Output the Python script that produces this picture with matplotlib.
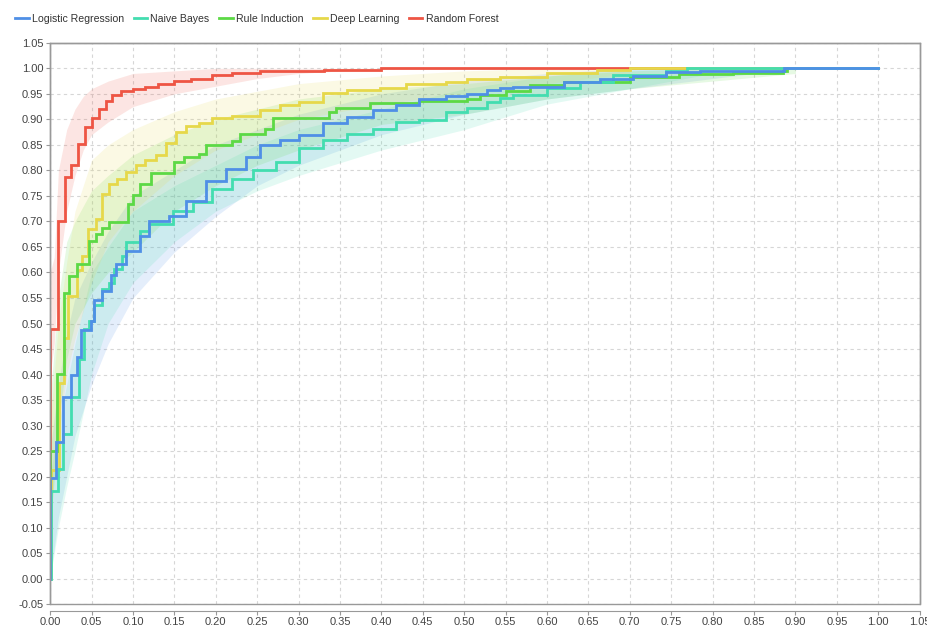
import numpy as np
import matplotlib
matplotlib.use("Agg")
import matplotlib.pyplot as plt
from matplotlib.patches import Rectangle

plt.rcParams['font.family'] = ['Liberation Sans', 'DejaVu Sans']

# ---- data (ROC curves, step points) ----
models = ['Logistic Regression', 'Naive Bayes', 'Rule Induction', 'Deep Learning', 'Random Forest']
colors = ['#4f8fe6', '#43ddb0', '#5cd945', '#e6d84a', '#ee5544']

lr_x = [0, 0, 0.007, 0.015, 0.025, 0.033, 0.037, 0.049, 0.053, 0.063, 0.073, 0.080, 0.092, 0.108,
        0.12, 0.144, 0.164, 0.188, 0.212, 0.236, 0.253, 0.277, 0.301, 0.329, 0.358, 0.39, 0.418,
        0.446, 0.478, 0.503, 0.527, 0.543, 0.559, 0.62, 0.664, 0.704, 0.744, 0.785, 0.886, 1.0]
lr_y = [0, 0.198, 0.267, 0.356, 0.399, 0.435, 0.488, 0.504, 0.547, 0.563, 0.596, 0.616, 0.642, 0.672,
        0.701, 0.711, 0.741, 0.780, 0.803, 0.826, 0.849, 0.859, 0.869, 0.892, 0.905, 0.918, 0.928,
        0.940, 0.945, 0.949, 0.958, 0.961, 0.964, 0.973, 0.980, 0.985, 0.992, 0.995, 1.0, 1.0]
lr_bx = [0, 0.01, 0.02, 0.03, 0.05, 0.07, 0.10, 0.15, 0.20, 0.25, 0.30, 0.40, 0.50, 0.60, 0.70, 0.80, 0.90]
lr_lo = [0.0, 0.12, 0.20, 0.28, 0.38, 0.46, 0.55, 0.64, 0.71, 0.77, 0.81, 0.87, 0.91, 0.94, 0.96, 0.98, 1.0]
lr_hi = [0.25, 0.38, 0.48, 0.55, 0.62, 0.68, 0.75, 0.80, 0.85, 0.88, 0.91, 0.95, 0.975, 0.99, 1.0, 1.0, 1.0]

nb_x = [0, 0.001, 0.009, 0.015, 0.025, 0.035, 0.041, 0.047, 0.053, 0.063, 0.071, 0.077, 0.087, 0.092,
        0.108, 0.12, 0.148, 0.172, 0.196, 0.22, 0.245, 0.273, 0.301, 0.33, 0.358, 0.39, 0.418, 0.446,
        0.478, 0.503, 0.527, 0.543, 0.559, 0.60, 0.64, 0.68, 0.744, 0.769, 1.0]
nb_y = [0, 0.172, 0.215, 0.284, 0.356, 0.430, 0.490, 0.504, 0.537, 0.567, 0.580, 0.606, 0.632, 0.659,
        0.682, 0.695, 0.721, 0.738, 0.764, 0.784, 0.800, 0.817, 0.843, 0.859, 0.872, 0.882, 0.895, 0.899,
        0.915, 0.922, 0.935, 0.941, 0.948, 0.961, 0.974, 0.986, 0.994, 1.0, 1.0]
nb_bx = [0, 0.01, 0.02, 0.03, 0.05, 0.07, 0.10, 0.15, 0.20, 0.25, 0.30, 0.40, 0.50, 0.60, 0.70, 0.80]
nb_lo = [0.0, 0.10, 0.18, 0.25, 0.40, 0.50, 0.58, 0.66, 0.72, 0.76, 0.79, 0.84, 0.88, 0.93, 0.96, 0.99]
nb_hi = [0.20, 0.30, 0.38, 0.46, 0.60, 0.65, 0.72, 0.77, 0.81, 0.85, 0.88, 0.92, 0.96, 0.985, 1.0, 1.0]

ri_x = [0, 0, 0.008, 0.017, 0.023, 0.033, 0.047, 0.055, 0.063, 0.071, 0.094, 0.100, 0.108, 0.122,
        0.15, 0.162, 0.18, 0.188, 0.22, 0.229, 0.26, 0.269, 0.337, 0.345, 0.386, 0.446, 0.503, 0.519,
        0.55, 0.579, 0.62, 0.70, 0.76, 0.825, 0.885, 0.89, 1.0]
ri_y = [0, 0.251, 0.402, 0.560, 0.593, 0.616, 0.662, 0.675, 0.688, 0.698, 0.734, 0.751, 0.774, 0.795,
        0.817, 0.826, 0.832, 0.849, 0.857, 0.872, 0.882, 0.902, 0.915, 0.923, 0.932, 0.936, 0.940, 0.947,
        0.955, 0.968, 0.974, 0.984, 0.988, 0.991, 0.995, 1.0, 1.0]
ri_bx = [0, 0.01, 0.02, 0.03, 0.05, 0.07, 0.10, 0.15, 0.20, 0.25, 0.30, 0.40, 0.50, 0.60, 0.70, 0.80, 0.90]
ri_lo = [0.10, 0.30, 0.43, 0.50, 0.56, 0.60, 0.64, 0.72, 0.77, 0.81, 0.84, 0.89, 0.91, 0.94, 0.96, 0.975, 0.99]
ri_hi = [0.35, 0.55, 0.66, 0.70, 0.76, 0.79, 0.83, 0.87, 0.90, 0.92, 0.94, 0.96, 0.97, 0.985, 0.995, 1.0, 1.0]

dl_x = [0, 0.001, 0.011, 0.017, 0.022, 0.026, 0.033, 0.039, 0.046, 0.055, 0.063, 0.071, 0.081, 0.092,
        0.104, 0.115, 0.128, 0.14, 0.152, 0.164, 0.18, 0.196, 0.22, 0.253, 0.277, 0.301, 0.33, 0.358,
        0.398, 0.43, 0.478, 0.503, 0.543, 0.60, 0.66, 0.70, 1.0]
dl_y = [0, 0.212, 0.383, 0.472, 0.553, 0.553, 0.605, 0.632, 0.685, 0.705, 0.754, 0.774, 0.784, 0.797,
        0.811, 0.820, 0.831, 0.853, 0.876, 0.888, 0.892, 0.902, 0.907, 0.918, 0.928, 0.935, 0.951, 0.958,
        0.962, 0.969, 0.974, 0.979, 0.984, 0.991, 0.997, 1.0, 1.0]
dl_bx = [0, 0.01, 0.02, 0.03, 0.05, 0.07, 0.10, 0.15, 0.20, 0.25, 0.30, 0.40, 0.50, 0.60, 0.70]
dl_lo = [0.10, 0.28, 0.40, 0.47, 0.58, 0.66, 0.72, 0.79, 0.84, 0.87, 0.90, 0.93, 0.95, 0.97, 0.99]
dl_hi = [0.30, 0.50, 0.62, 0.72, 0.82, 0.85, 0.88, 0.915, 0.94, 0.955, 0.97, 0.985, 0.995, 1.0, 1.0]

rf_x = [0, 0, 0.009, 0.018, 0.025, 0.034, 0.042, 0.051, 0.059, 0.067, 0.075, 0.085, 0.10, 0.114,
        0.13, 0.15, 0.17, 0.196, 0.22, 0.253, 0.331, 0.40, 1.0]
rf_y = [0, 0.49, 0.70, 0.787, 0.811, 0.851, 0.886, 0.903, 0.920, 0.936, 0.947, 0.955, 0.960, 0.964,
        0.970, 0.976, 0.980, 0.987, 0.990, 0.995, 0.997, 1.0, 1.0]
rf_bx = [0, 0.005, 0.01, 0.02, 0.03, 0.04, 0.05, 0.07, 0.10, 0.15, 0.20, 0.25, 0.30, 0.40]
rf_lo = [0.40, 0.46, 0.60, 0.72, 0.79, 0.84, 0.87, 0.895, 0.925, 0.95, 0.965, 0.98, 0.99, 1.0]
rf_hi = [0.60, 0.63, 0.80, 0.88, 0.92, 0.945, 0.96, 0.975, 0.99, 0.995, 1.0, 1.0, 1.0, 1.0]

curves = [(lr_x, lr_y), (nb_x, nb_y), (ri_x, ri_y), (dl_x, dl_y), (rf_x, rf_y)]
bands = [(lr_bx, lr_lo, lr_hi), (nb_bx, nb_lo, nb_hi), (ri_bx, ri_lo, ri_hi),
         (dl_bx, dl_lo, dl_hi), (rf_bx, rf_lo, rf_hi)]

fig = plt.figure(figsize=(9.28, 6.3), dpi=100)
ax = fig.add_axes([0.054, 0.041, 0.937, 0.891])

ax.set_xlim(0, 1.05)
ax.set_ylim(-0.05, 1.05)
ticks = np.round(np.arange(0, 1.0501, 0.05), 2)
yticks = np.round(np.arange(-0.05, 1.0501, 0.05), 2)
ax.set_xticks(ticks)
ax.set_yticks(yticks)
ax.set_xticklabels([f'{t:.2f}' for t in ticks])
ax.set_yticklabels([f'{t:.2f}' for t in yticks])
ax.tick_params(labelsize=8, labelcolor='#444444', color='#999999', length=3, width=0.8)
ax.tick_params(axis='x', pad=1.5)
ax.tick_params(axis='y', pad=2)
ax.grid(True, color='#d6d6d6', linestyle=(0, (3, 3)), linewidth=0.8)
ax.set_axisbelow(True)

for s in ['top', 'right', 'left']:
    ax.spines[s].set_color('#999999')
    ax.spines[s].set_linewidth(1.0)
ax.spines['bottom'].set_position(('outward', 5))
ax.spines['bottom'].set_color('#999999')
ax.add_patch(Rectangle((0, 0), 1, 1, transform=ax.transAxes, fill=False,
                       edgecolor='#999999', linewidth=1.0, clip_on=False, zorder=5))

# bands first, then lines drawn with Random Forest at the bottom
for (bx, lo, hi), c in zip(bands, colors):
    ax.fill_between(bx, lo, hi, color=c, alpha=0.15, linewidth=0)

for i in range(len(models) - 1, -1, -1):
    x, y = curves[i]
    ax.plot(x, y, drawstyle='steps-post', color=colors[i], linewidth=2.0,
            label=models[i], solid_joinstyle='miter')

handles, labels = ax.get_legend_handles_labels()
fig.legend(handles[::-1], labels[::-1], loc='upper left', bbox_to_anchor=(0.006, 0.993),
           ncol=5, frameon=False, fontsize=7.6, handlelength=1.3, handletextpad=0.3,
           columnspacing=0.9, labelcolor='#333333')

fig.savefig('out.png', dpi=100)
